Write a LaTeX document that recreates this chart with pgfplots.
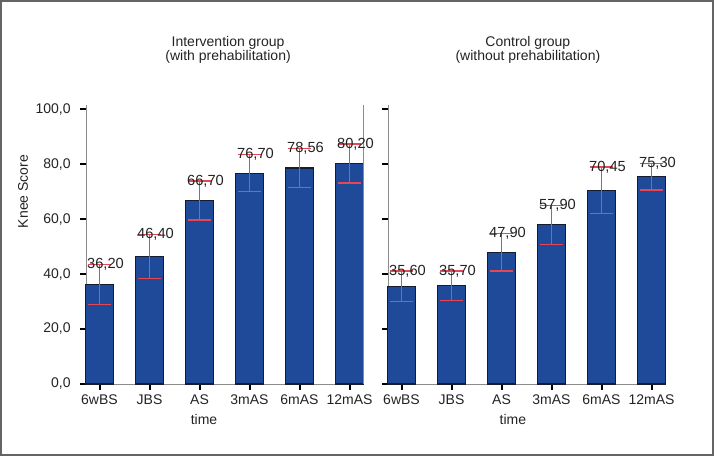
\documentclass[border=0pt]{standalone}
\usepackage{pgfplots}
\pgfplotsset{compat=1.18}
\usepackage{pgfplotstable}
\usepackage{fontspec}
\setmainfont{Liberation Sans}
\definecolor{barblue}{RGB}{31,73,153}
\definecolor{baredge}{RGB}{22,28,48}
\definecolor{errred}{RGB}{230,70,85}
\definecolor{axgray}{RGB}{140,140,140}
\definecolor{framegray}{RGB}{100,100,100}
\definecolor{txt}{RGB}{35,35,35}

\pgfplotstableread{
x y e lab
0 36.20 7.3 36,20
1 46.40 8.0 46,40
2 66.70 7.1 66,70
3 76.70 6.7 76,70
4 78.56 7.1 78,56
5 80.20 7.1 80,20
}\interv
\pgfplotstableread{
x y e lab
0 35.60 5.5 35,60
1 35.70 5.4 35,70
2 47.90 6.8 47,90
3 57.90 7.1 57,90
4 70.45 8.4 70,45
5 75.30 4.8 75,30
}\control

\pgfplotsset{
 panel/.style={
  scale only axis, width=207.75pt, height=209.3pt,
  xmin=-0.27, xmax=5.27, ymin=0, ymax=101.5,
  axis x line*=bottom, axis y line*=left,
  axis line style={axgray, line width=0.6pt},
  xtick={0,...,5}, xticklabels={6wBS,JBS,AS,3mAS,6mAS,12mAS},
  ytick={0,20,...,100},
  tick align=outside, major tick length=4.5pt,
  tick style={black, line width=1.5pt},
  tick label style={font=\fontsize{10.5}{12}\selectfont, text=txt},
  label style={font=\fontsize{10.5}{12}\selectfont, text=txt},
  title style={font=\fontsize{10.5}{10.5}\selectfont, text=txt, anchor=north, inner sep=0pt, align=center},
  clip=false,
 },
 bars/.style={ybar, bar width=21pt, bar shift=0pt, fill=barblue, draw=baredge, line width=0.8pt},
 errs/.style={draw=none, mark=none,
  error bars/.cd, y dir=both, y explicit,
  error bar style={draw=errred, line width=1.2pt},
  error mark options={draw=errred, line width=1.1pt, rotate=90, mark size=8.5pt}},
 labs/.style={draw=none, nodes near coords, point meta=explicit symbolic,
  nodes near coords style={anchor=center, xshift=4.5pt, font=\fontsize{11}{13}\selectfont, text=txt, inner sep=0pt}},
}

\begin{document}
\begin{tikzpicture}
\path[use as bounding box] (0pt,0pt) rectangle (535.5pt,342pt);
\draw[framegray, line width=1.2pt] (0.6pt,0.6pt) rectangle (534.9pt,341.4pt);

\begin{axis}[panel, name=L, at={(64.5pt,54pt)}, anchor=south west,
  yticklabels={{0,0},{20,0},{40,0},{60,0},{80,0},{100,0}},
  yticklabel style={xshift=-3.5pt},
  ylabel={Knee Score}, ylabel style={at={(axis description cs:-0.227,0.69)}, anchor=center},
  xlabel={time}, xlabel style={at={(axis description cs:0.426,-0.129)}, anchor=center},
  title={Intervention group\\(with prehabilitation)}, title style={at={(axis description cs:0.513,1.2186)}},
]
\addplot[bars] table[x=x, y=y] {\interv};
\addplot[errs] table[x=x, y=y, y error=e] {\interv};
\addplot[labs] table[x=x, y expr=\thisrow{y}+\thisrow{e}, meta=lab] {\interv};
\draw[axgray, line width=0.6pt] (rel axis cs:1,0) -- (rel axis cs:1,1);
\end{axis}

\begin{axis}[panel, name=R, at={(291pt,54pt)}, anchor=south west,
  yticklabels={{},{},{},{},{},{}},
  xlabel={time}, xlabel style={at={(axis description cs:0.451,-0.129)}, anchor=center},
  title={Control group\\(without prehabilitation)}, title style={at={(axis description cs:0.505,1.2186)}},
]
\addplot[bars] table[x=x, y=y] {\control};
\addplot[errs] table[x=x, y=y, y error=e] {\control};
\addplot[labs] table[x=x, y expr=\thisrow{y}+\thisrow{e}, meta=lab] {\control};
\end{axis}
\end{tikzpicture}
\end{document}
